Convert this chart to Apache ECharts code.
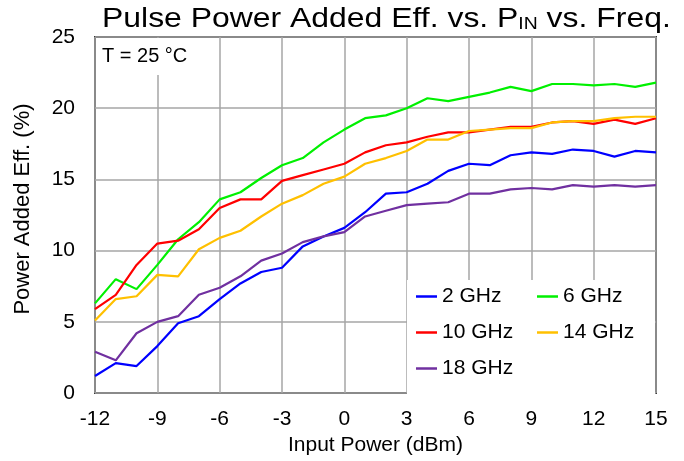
<!DOCTYPE html>
<html>
<head>
<meta charset="utf-8">
<script src="https://cdn.jsdelivr.net/npm/echarts@6/dist/echarts.min.js"></script>
<style>
  html, body { margin: 0; padding: 0; background: #fff; }
  #chart { width: 684px; height: 461px; }
</style>
</head>
<body>
<div id="chart"></div>
<script>
// Input power sweep (dBm)
const inputPower = [-12, -11, -10, -9, -8, -7, -6, -5, -4, -3, -2, -1, 0, 1, 2, 3, 4, 5, 6, 7, 8, 9, 10, 11, 12, 13, 14, 15];

// Power added efficiency (%) per frequency
const pae2GHz  = [1.2, 2.1, 1.9, 3.3, 4.9, 5.4, 6.6, 7.7, 8.5, 8.8, 10.3, 11.0, 11.6, 12.7, 14.0, 14.1, 14.7, 15.6, 16.1, 16.0, 16.7, 16.9, 16.8, 17.1, 17.0, 16.6, 17.0, 16.9];
const pae6GHz  = [6.3, 8.0, 7.3, 9.0, 10.8, 12.0, 13.6, 14.1, 15.1, 16.0, 16.5, 17.6, 18.5, 19.3, 19.5, 20.0, 20.7, 20.5, 20.8, 21.1, 21.5, 21.2, 21.7, 21.7, 21.6, 21.7, 21.5, 21.8];
const pae10GHz = [5.9, 6.9, 9.0, 10.5, 10.7, 11.5, 13.0, 13.6, 13.6, 14.9, 15.3, 15.7, 16.1, 16.9, 17.4, 17.6, 18.0, 18.3, 18.3, 18.5, 18.7, 18.7, 19.0, 19.1, 18.9, 19.2, 18.9, 19.3];
const pae14GHz = [5.1, 6.6, 6.8, 8.3, 8.2, 10.1, 10.9, 11.4, 12.4, 13.3, 13.9, 14.7, 15.2, 16.1, 16.5, 17.0, 17.8, 17.8, 18.4, 18.5, 18.6, 18.6, 19.0, 19.1, 19.1, 19.3, 19.4, 19.4];
const pae18GHz = [2.9, 2.3, 4.2, 5.0, 5.4, 6.9, 7.4, 8.2, 9.3, 9.8, 10.6, 11.0, 11.3, 12.4, 12.8, 13.2, 13.3, 13.4, 14.0, 14.0, 14.3, 14.4, 14.3, 14.6, 14.5, 14.6, 14.5, 14.6];

// Axis tick settings
const xTicks = { min: -12, max: 15, step: 3 };
const yTicks = { min: 0, max: 25, step: 5 };

const seriesDefs = [
  { name: '2 GHz',  values: pae2GHz,  color: '#0000ff' },
  { name: '6 GHz',  values: pae6GHz,  color: '#00f000' },
  { name: '10 GHz', values: pae10GHz, color: '#ff0000' },
  { name: '14 GHz', values: pae14GHz, color: '#ffc000' },
  { name: '18 GHz', values: pae18GHz, color: '#7030a0' }
];

const FONT = '"Liberation Sans", Arial, sans-serif';

const chart = echarts.init(document.getElementById('chart'), null, { renderer: 'canvas' });

const legendCommon = {
  orient: 'vertical',
  icon: 'rect',
  itemWidth: 21,
  itemHeight: 2.5,
  itemGap: 15,
  padding: 0,
  textStyle: { fontFamily: FONT, fontSize: 21, color: '#000' }
};

chart.setOption({
  animation: false,
  backgroundColor: '#fff',
  grid: {
    left: 95, right: 28, top: 37, bottom: 66,
    show: true,
    borderColor: '#3a3a3a',
    borderWidth: 2,
    containLabel: false
  },
  xAxis: {
    type: 'value',
    min: xTicks.min, max: xTicks.max, interval: xTicks.step,
    name: 'Input Power (dBm)',
    nameLocation: 'middle',
    nameGap: 35,
    nameTextStyle: { fontFamily: FONT, fontSize: 21, color: '#000' },
    axisLine: { show: false },
    axisTick: { show: false },
    axisLabel: { fontFamily: FONT, fontSize: 21, color: '#000', margin: 16 },
    splitLine: { show: true, lineStyle: { color: '#a6a6a6', width: 1.5 } }
  },
  yAxis: {
    type: 'value',
    min: yTicks.min, max: yTicks.max, interval: yTicks.step,
    name: 'Power Added Eff. (%)',
    nameLocation: 'middle',
    nameGap: 61,
    nameTextStyle: { fontFamily: FONT, fontSize: 22, color: '#000', padding: [0, 0, 0, 12] },
    axisLine: { show: false },
    axisTick: { show: false },
    axisLabel: { fontFamily: FONT, fontSize: 21, color: '#000', margin: 20 },
    splitLine: { show: true, lineStyle: { color: '#a6a6a6', width: 1.5 } }
  },
  legend: [
    Object.assign({}, legendCommon, { left: 416, top: 286, data: ['2 GHz', '10 GHz', '18 GHz'] }),
    Object.assign({}, legendCommon, { left: 537, top: 286, data: ['6 GHz', '14 GHz'] })
  ],
  graphic: [
    {
      // chart title with subscripted P_IN
      type: 'text', z: 5,
      x: 102, y: 1,
      scaleX: 1.14,
      style: {
        text: '{a|Pulse Power Added Eff. vs. P}{s|IN}{a| vs. Freq.}',
        verticalAlign: 'top',
        rich: {
          a: { fontFamily: FONT, fontSize: 28, fill: '#000', lineHeight: 32, verticalAlign: 'bottom' },
          s: { fontFamily: FONT, fontSize: 17, fill: '#000', lineHeight: 32, verticalAlign: 'bottom' }
        }
      }
    },
    {
      type: 'rect', z: 1,
      shape: { x: 407, y: 280, width: 248, height: 114 },
      style: { fill: '#fff' }
    },
    {
      type: 'rect', z: 1,
      shape: { x: 96, y: 38, width: 104, height: 37 },
      style: { fill: '#fff' }
    },
    {
      type: 'text', z: 5,
      left: 102, top: 46,
      style: { text: 'T = 25 °C', font: '20px ' + FONT, fill: '#000' }
    }
  ],
  series: seriesDefs.map(s => ({
    name: s.name,
    type: 'line',
    showSymbol: false,
    symbol: 'none',
    color: s.color,
    lineStyle: { color: s.color, width: 2.2 },
    data: inputPower.map((x, i) => [x, s.values[i]])
  }))
});
</script>
</body>
</html>
